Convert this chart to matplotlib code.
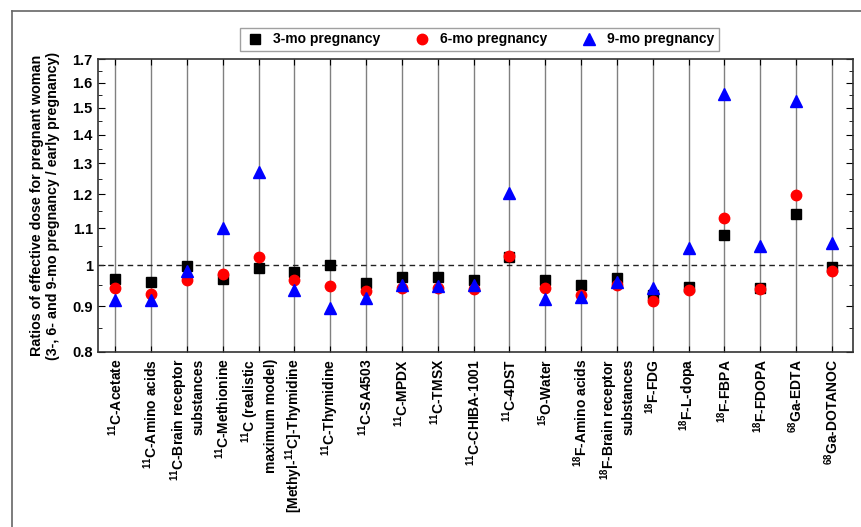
import numpy as np
import matplotlib.pyplot as plt
from matplotlib.lines import Line2D
from matplotlib.ticker import FixedLocator, NullFormatter

plt.rcParams['font.family'] = ['Liberation Sans', 'DejaVu Sans']
plt.rcParams['font.weight'] = 'bold'
plt.rcParams['mathtext.fontset'] = 'custom'
plt.rcParams['mathtext.rm'] = 'Liberation Sans:bold'
plt.rcParams['mathtext.bf'] = 'Liberation Sans:bold'

# Nombres de los radiofármacos
etiquetas = [
    r'$^{11}$C-Acetate',
    r'$^{11}$C-Amino acids',
    '$^{11}$C-Brain receptor\nsubstances',
    r'$^{11}$C-Methionine',
    '$^{11}$C (realistic\nmaximum model)',
    r'[Methyl-$^{11}$C]-Thymidine',
    r'$^{11}$C-Thymidine',
    r'$^{11}$C-SA4503',
    r'$^{11}$C-MPDX',
    r'$^{11}$C-TMSX',
    r'$^{11}$C-CHIBA-1001',
    r'$^{11}$C-4DST',
    r'$^{15}$O-Water',
    r'$^{18}$F-Amino acids',
    '$^{18}$F-Brain receptor\nsubstances',
    r'$^{18}$F-FDG',
    r'$^{18}$F-L-dopa',
    r'$^{18}$F-FBPA',
    r'$^{18}$F-FDOPA',
    r'$^{68}$Ga-EDTA',
    r'$^{68}$Ga-DOTANOC',
]

# Cocientes de dosis efectiva
mes3 = [0.966, 0.957, 0.998, 0.966, 0.992, 0.982, 1.000, 0.956, 0.971, 0.971, 0.962,
        1.020, 0.962, 0.951, 0.968, 0.926, 0.946, 1.081, 0.942, 1.141, 0.996]
mes6 = [0.942, 0.928, 0.962, 0.977, 1.022, 0.962, 0.948, 0.936, 0.942, 0.944, 0.940,
        1.025, 0.942, 0.926, 0.950, 0.912, 0.938, 1.128, 0.941, 1.198, 0.985]
mes9 = [0.914, 0.914, 0.986, 1.100, 1.272, 0.938, 0.896, 0.918, 0.950, 0.947, 0.949,
        1.204, 0.916, 0.922, 0.957, 0.942, 1.046, 1.555, 1.051, 1.527, 1.060]

ticks_y = [0.8, 0.9, 1.0, 1.1, 1.2, 1.3, 1.4, 1.5, 1.6, 1.7]
ticks_y_txt = ['0.8', '0.9', '1', '1.1', '1.2', '1.3', '1.4', '1.5', '1.6', '1.7']
ticks_menores = [0.85, 0.95, 1.05, 1.15, 1.25, 1.35, 1.45, 1.55, 1.65]

fig = plt.figure(figsize=(8.61, 5.27), dpi=100)
ax = fig.add_axes([0.1135, 0.3326, 0.8769, 0.5549])

x = np.arange(len(etiquetas))
for xi in x:
    ax.axvline(xi, color='#808080', lw=1.0, zorder=1)
ax.axhline(1.0, color='#222222', lw=1.0, ls=(0, (4, 3)), zorder=2)

ax.plot(x, mes3, 's', color='black', ms=6.5, ls='none', zorder=3)
ax.plot(x, mes6, 'o', color='red', ms=7.5, ls='none', zorder=4)
ax.plot(x, mes9, '^', color='blue', ms=8.5, ls='none', zorder=5)

ax.set_yscale('log')
ax.set_ylim(0.8, 1.7)
ax.set_xlim(-0.49, 20.58)
ax.yaxis.set_major_locator(FixedLocator(ticks_y))
ax.yaxis.set_minor_locator(FixedLocator(ticks_menores))
ax.set_yticklabels(ticks_y_txt)
ax.yaxis.set_minor_formatter(NullFormatter())
ax.tick_params(axis='y', which='both', direction='in', right=True, labelsize=10.5)
ax.tick_params(axis='y', which='major', length=5)
ax.tick_params(axis='y', which='minor', length=3)

ax.set_xticks(x)
ax.set_xticklabels(etiquetas, rotation=90, fontsize=10, fontweight='bold',
                   va='top', ha='center', multialignment='right')
ax.tick_params(axis='x', direction='in', top=True, length=4, pad=5)

for s in ax.spines.values():
    s.set_linewidth(1.2)
    s.set_color('#333333')

ax.set_ylabel('Ratios of effective dose for pregnant woman\n(3-, 6- and 9-mo pregnancy / early pregnancy)',
              fontsize=10.3, fontweight='bold', labelpad=9)

handles = [
    Line2D([], [], marker='s', color='black', ls='none', ms=6.5),
    Line2D([], [], marker='o', color='red', ls='none', ms=7.5),
    Line2D([], [], marker='^', color='blue', ls='none', ms=8.5),
]
leg = fig.legend(handles, ['3-mo pregnancy', '6-mo pregnancy', '9-mo pregnancy'],
                 loc='center', bbox_to_anchor=(479.5 / 861, 1 - 39.5 / 527), ncol=3,
                 frameon=True, fancybox=False, fontsize=10, handletextpad=0.6,
                 columnspacing=2.2, borderpad=0.3, handlelength=1.5)
leg.get_frame().set_edgecolor('#888888')
leg.get_frame().set_linewidth(1.0)

# Marco de la imagen
fig.add_artist(Line2D([12 / 861, 12 / 861], [0, 1 - 11 / 527], color='#666666', lw=1.2,
                      transform=fig.transFigure))
fig.add_artist(Line2D([12 / 861, 1], [1 - 11 / 527, 1 - 11 / 527], color='#666666', lw=1.2,
                      transform=fig.transFigure))

fig.savefig('out.png', dpi=100)
